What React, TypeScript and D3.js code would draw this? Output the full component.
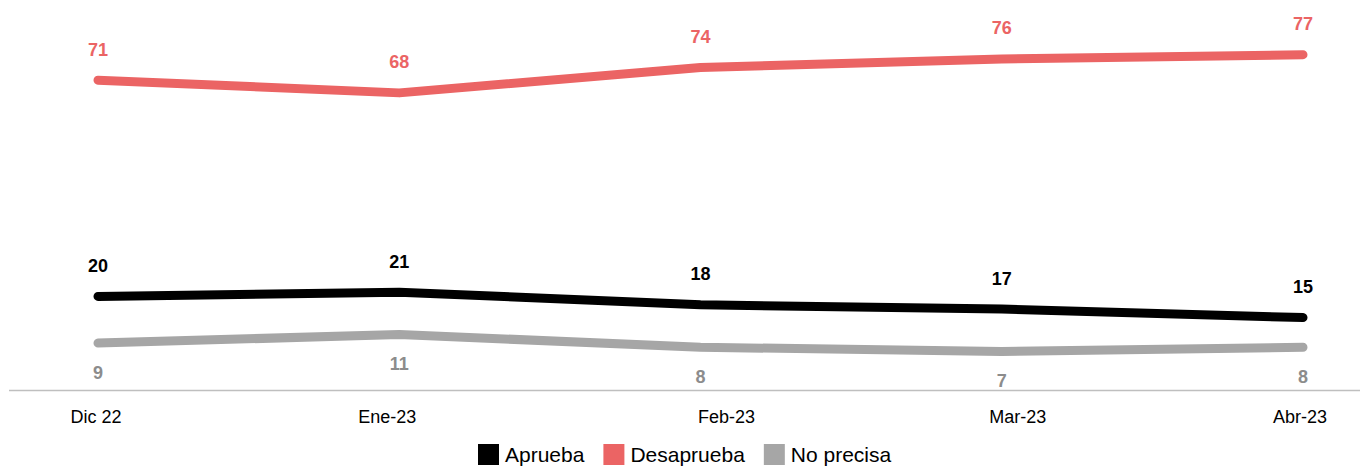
import React, { useEffect, useRef } from "react";
import * as d3 from "d3";

// Monthly approval survey results (%)
const months = ["Dic 22", "Ene-23", "Feb-23", "Mar-23", "Abr-23"];
const aprueba = [20, 21, 18, 17, 15];
const desaprueba = [71, 68, 74, 76, 77];
const noPrecisa = [9, 11, 8, 7, 8];
const seriesNames = ["Aprueba", "Desaprueba", "No precisa"];

// Layout: horizontal nudge of each month label relative to its point
const tickDx = [-2, -12, 26, 16, -3];

const W = 1360;
const H = 466;
const FONT = "'Liberation Sans', Arial, sans-serif";

export default function App() {
  const ref = useRef<SVGSVGElement | null>(null);

  useEffect(() => {
    const svg = d3.select(ref.current);
    svg.selectAll("*").remove();

    const x = d3.scalePoint<string>().domain(months).range([98, 1303]);
    const y = d3.scaleLinear().domain([-2.2, 80]).range([390.5, 42]);

    const series = [
      { name: seriesNames[0], values: aprueba, color: "#000000", labelColor: "#000000", above: true },
      { name: seriesNames[1], values: desaprueba, color: "#EB6464", labelColor: "#EB6464", above: true },
      { name: seriesNames[2], values: noPrecisa, color: "#A6A6A6", labelColor: "#8C8C8C", above: false },
    ];

    // baseline axis
    svg
      .append("line")
      .attr("x1", 9)
      .attr("x2", W)
      .attr("y1", y(-2.2))
      .attr("y2", y(-2.2))
      .attr("stroke", "#BFBFBF")
      .attr("stroke-width", 1.3);

    // month labels
    svg
      .append("g")
      .selectAll("text")
      .data(months)
      .join("text")
      .attr("x", (d, i) => (x(d) as number) + tickDx[i])
      .attr("y", 423)
      .attr("text-anchor", "middle")
      .attr("font-family", FONT)
      .attr("font-size", 18)
      .attr("fill", "#000")
      .text((d) => d);

    const line = d3
      .line<number>()
      .x((_, i) => x(months[i]) as number)
      .y((d) => y(d));

    // draw in order so the grey line sits below the black one
    const drawOrder = [series[2], series[1], series[0]];
    drawOrder.forEach((s) => {
      svg
        .append("path")
        .datum(s.values)
        .attr("d", line)
        .attr("fill", "none")
        .attr("stroke", s.color)
        .attr("stroke-width", 9)
        .attr("stroke-linecap", "round")
        .attr("stroke-linejoin", "round");
    });

    series.forEach((s) => {
      svg
        .append("g")
        .selectAll("text")
        .data(s.values)
        .join("text")
        .attr("x", (_, i) => x(months[i]) as number)
        .attr("y", (d) => (s.above ? y(d) - 24.5 : y(d) + 35.5))
        .attr("text-anchor", "middle")
        .attr("font-family", FONT)
        .attr("font-size", 18)
        .attr("font-weight", "bold")
        .attr("fill", s.labelColor)
        .text((d) => String(d));
    });

    // legend
    const legend = svg.append("g").attr("transform", "translate(478,0)");
    const sw = 21;
    const gap = 6;
    const itemGap = 19;
    let cx = 0;
    series.forEach((s) => {
      const g = legend.append("g").attr("transform", `translate(${cx},0)`);
      g.append("rect").attr("x", 0).attr("y", 444).attr("width", sw).attr("height", sw).attr("fill", s.color);
      const t = g
        .append("text")
        .attr("x", sw + gap)
        .attr("y", 462)
        .attr("font-family", FONT)
        .attr("font-size", 21)
        .attr("fill", "#000")
        .text(s.name);
      const tw = (t.node() as SVGTextElement).getComputedTextLength();
      cx += sw + gap + tw + itemGap;
    });
  }, []);

  return (
    <svg
      ref={ref}
      width={W}
      height={H}
      style={{ position: "absolute", left: 0, top: 0, background: "#fff" }}
    />
  );
}
